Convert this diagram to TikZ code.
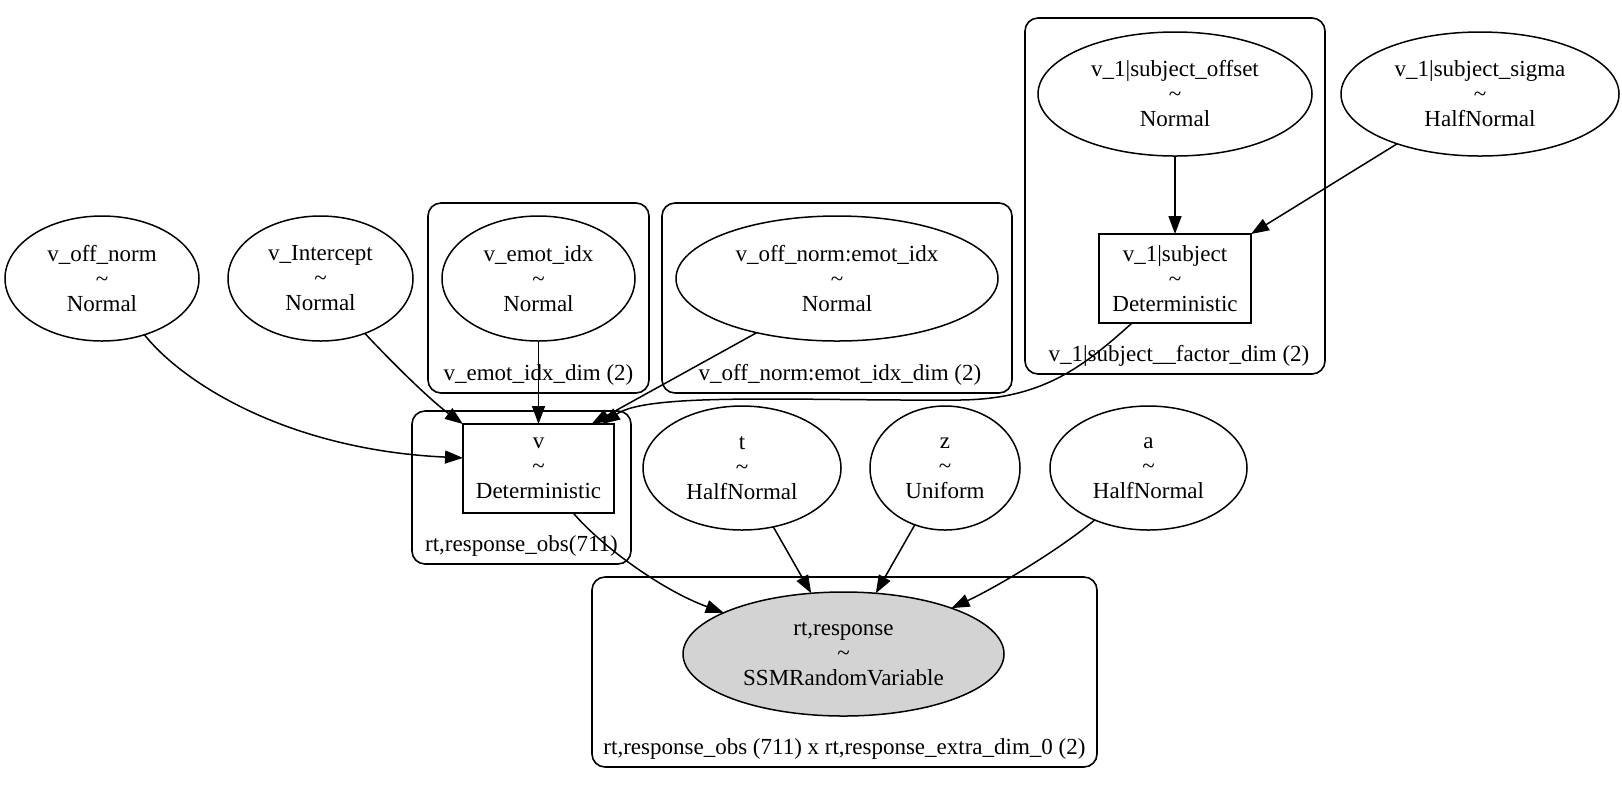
\documentclass[tikz,border=0pt]{standalone}
\usepackage{fontspec}
\setmainfont{Liberation Serif}
\usetikzlibrary{arrows.meta,shapes.geometric}
\definecolor{gvgray}{RGB}{211,211,211}
\newcommand\gvfont{\fontsize{11.5pt}{12.5pt}\selectfont}
\tikzset{
  rv/.style={ellipse, draw, line width=0.75pt, inner sep=0pt, outer sep=0pt, align=center, font=\gvfont},
  detbox/.style={rectangle, draw, line width=0.75pt, inner sep=0pt, outer sep=0pt, align=center, font=\gvfont},
  plate/.style={draw, rounded corners=6.5pt, line width=0.8pt},
  clab/.style={anchor=base, inner sep=0pt, font=\gvfont},
  edge/.style={draw, line width=0.75pt, -{Triangle[length=9pt,width=6.5pt]}},
}
\begin{document}
\begin{tikzpicture}[x=0.5pt,y=-0.5pt]
\useasboundingbox (0,0) rectangle (1622,784);
% plates
\draw[plate] (428,203) rectangle (649,393);
\draw[plate] (662,203) rectangle (1012,393);
\draw[plate] (1025,18) rectangle (1325,374);
\draw[plate] (412,411) rectangle (631,564);
\draw[plate] (592,577) rectangle (1097,767);
\node[clab] (l1) at (538.5,380.5) {v\_emot\_idx\_dim (2)};
\node[clab] (l2) at (840,380.5) {v\_off\_norm:emot\_idx\_dim (2)};
\node[clab] (l3) at (1179,361.5) {v\_1|subject\_\_factor\_dim (2)};
\node[clab] (l4) at (521.5,551.5) {rt,response\_obs(711)};
\node[clab] (l5) at (844.5,754.5) {rt,response\_obs (711) x rt,response\_extra\_dim\_0 (2)};
% nodes
\node[rv, minimum width=97pt, minimum height=62.5pt] (voff) at (102,278.5) {v\_off\_norm\\\textasciitilde\\Normal};
\node[rv, minimum width=92.5pt, minimum height=62.5pt] (vint) at (320.5,278.5) {v\_Intercept\\\textasciitilde\\Normal};
\node[rv, minimum width=96.5pt, minimum height=62.5pt] (vemot) at (538.5,278.5) {v\_emot\_idx\\\textasciitilde\\Normal};
\node[rv, minimum width=161pt, minimum height=62.5pt] (vonei) at (837,278.5) {v\_off\_norm:emot\_idx\\\textasciitilde\\Normal};
\node[rv, minimum width=137pt, minimum height=62pt] (v1off) at (1175,94) {v\_1|subject\_offset\\\textasciitilde\\Normal};
\node[rv, minimum width=139pt, minimum height=62pt] (v1sig) at (1480,94) {v\_1|subject\_sigma\\\textasciitilde\\HalfNormal};
\node[detbox, minimum width=76pt, minimum height=44.5pt] (v1sub) at (1175,278.5) {v\_1|subject\\\textasciitilde\\Deterministic};
\node[detbox, minimum width=75.5pt, minimum height=44.5pt] (v) at (538.5,468.5) {v\\\textasciitilde\\Deterministic};
\node[rv, minimum width=99pt, minimum height=62pt] (t) at (742,468) {t\\\textasciitilde\\HalfNormal};
\node[rv, minimum width=75pt, minimum height=62pt] (z) at (945,468) {z\\\textasciitilde\\Uniform};
\node[rv, minimum width=98.5pt, minimum height=62pt] (a) at (1148.5,468) {a\\\textasciitilde\\HalfNormal};
\node[rv, fill=gvgray, minimum width=160.5pt, minimum height=62pt] (rt) at (843.5,654) {rt,response\\\textasciitilde\\SSMRandomVariable};
\coordinate (bend) at (960,400);
% edges
\draw[edge] (voff.-53) .. controls +(40,50) and +(-173,-8) .. (v.172);
\draw[edge] (vint.-51) .. controls +(25,27) and +(-33,-24) .. (v.north west);
\draw[edge] (vemot.south) -- (v.north);
\draw[edge] (vonei.-146) -- (v.40);
\draw[edge] (v1sub.-134) .. controls +(-52,47) and +(80,-1) .. (bend) .. controls +(-160,1) and +(47,-32) .. (v.35);
\draw[edge] (v1off.south) -- (v1sub.north);
\draw[edge] (v1sig.-149) -- (v1sub.north east);
\draw[edge] (v.-52) .. controls +(27,32) and +(-63,-23) .. (rt.161);
\draw[edge] (t.-62) -- (rt.118);
\draw[edge] (z.-118) -- (rt.62);
\draw[edge] (a.-136) .. controls +(-33,28) and +(47,-22) .. (rt.23);
\end{tikzpicture}
\end{document}
